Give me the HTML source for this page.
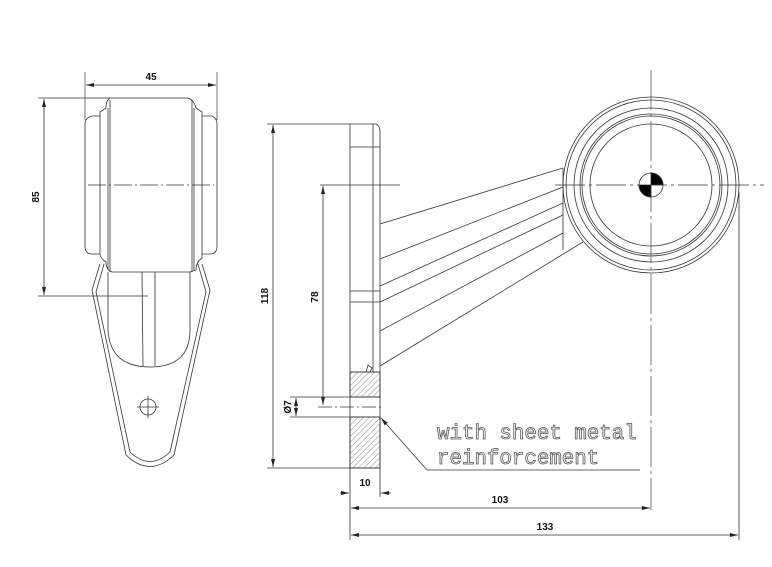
<!DOCTYPE html>
<html><head><style>body{margin:0;background:#fff}svg{display:block}</style></head><body>
<svg width="772" height="567" viewBox="0 0 772 567" xmlns="http://www.w3.org/2000/svg" fill="none" stroke="#333" stroke-width="0.8">
<defs>
<pattern id="h" width="4" height="4" patternUnits="userSpaceOnUse" patternTransform="rotate(45)"><line x1="0" y1="0" x2="0" y2="4" stroke="#555" stroke-width="0.7"/></pattern>
<marker id="a" markerWidth="8" markerHeight="6" refX="8" refY="3" orient="auto-start-reverse" markerUnits="userSpaceOnUse"><path d="M0,1 L8,3 L0,5z" fill="#222" stroke="none"/></marker>
</defs>
<!-- FRONT VIEW -->
<line x1="85" y1="72" x2="85" y2="120" stroke="#555"/>
<line x1="217" y1="72" x2="217" y2="120" stroke="#555"/>
<line x1="86" y1="85" x2="216" y2="85" marker-start="url(#a)" marker-end="url(#a)"/>
<line x1="38" y1="98" x2="110" y2="98"/>
<line x1="38" y1="296" x2="148" y2="296"/>
<line x1="44" y1="99" x2="44" y2="295" marker-start="url(#a)" marker-end="url(#a)"/>
<path d="M110,98 L188,98 Q194,100 196,108 L202,112 L202,116 L212,116 Q217,118 217,124 L217,246 Q217,254 210,254 L202,254 L202,258 Q196,262 196,270 L190,272 L112,272 Q106,270 106,262 Q100,258 100,254 L92,254 Q85,254 85,246 L85,124 Q85,118 92,116 L100,116 L100,112 L106,108 Q106,100 110,98z"/>
<line x1="108" y1="108" x2="108" y2="270"/><line x1="110" y1="100" x2="110" y2="272"/>
<line x1="194" y1="108" x2="194" y2="270"/><line x1="192" y1="100" x2="192" y2="272"/>
<line x1="100" y1="116" x2="100" y2="254"/><line x1="202" y1="116" x2="202" y2="254"/>
<line x1="88" y1="185" x2="214" y2="185" stroke-dasharray="18,3,2,3"/>
<path d="M108,272 L108,330 Q110,367 150,367 Q190,367 190,330 L190,272"/>
<line x1="142" y1="272" x2="143" y2="366"/><line x1="155" y1="272" x2="155" y2="366"/>
<path d="M100,264 L92,290 L126,455 Q150,478 174,455 L210,290 L202,264"/>
<path d="M104,264 L96,292 L130,452 Q150,471 170,452 L206,292 L198,264"/>
<circle cx="148" cy="407" r="8"/>
<line x1="137" y1="407" x2="159" y2="407"/><line x1="148" y1="396" x2="148" y2="418"/>
<!-- SIDE VIEW -->
<path d="M350,124 L376,124 Q380,126 380,132 L380,468 L350,468z"/>
<line x1="373" y1="124" x2="373" y2="372"/>
<line x1="350" y1="147" x2="380" y2="147"/>
<line x1="350" y1="291" x2="380" y2="291"/>
<line x1="350" y1="302" x2="380" y2="302"/>
<rect x="350" y="372" width="30" height="25" fill="url(#h)"/>
<rect x="350" y="417" width="30" height="51" fill="url(#h)"/>
<line x1="350" y1="372" x2="380" y2="372"/><line x1="350" y1="397" x2="380" y2="397"/><line x1="350" y1="417" x2="380" y2="417"/>
<path d="M366,372 L368,365 L372,368 L370,372"/>
<line x1="318" y1="407" x2="384" y2="407" stroke-dasharray="14,3,2,3"/>
<!-- arms -->
<line x1="380" y1="224" x2="563" y2="168"/>
<line x1="380" y1="259" x2="563" y2="187"/>
<line x1="380" y1="286" x2="563" y2="203"/>
<line x1="380" y1="302" x2="563" y2="215"/>
<line x1="380" y1="331" x2="563" y2="233"/>
<line x1="380" y1="366" x2="583" y2="242"/>
<line x1="563" y1="168" x2="563" y2="250"/>
<!-- circle -->
<circle cx="651" cy="185" r="88" fill="#fff"/>
<circle cx="651" cy="185" r="85"/>
<circle cx="651" cy="185" r="77"/>
<circle cx="651" cy="185" r="71"/>
<circle cx="651" cy="185" r="69"/>
<circle cx="651" cy="185" r="61"/>
<line x1="651" y1="70" x2="651" y2="510" stroke="#555" stroke-dasharray="40,4,3,4"/>
<line x1="320" y1="185" x2="400" y2="185"/>
<line x1="555" y1="185" x2="764" y2="185" stroke-dasharray="30,4,3,4"/>
<circle cx="651" cy="185" r="12" fill="#fff"/>
<path d="M651,185 L651,173 A12,12 0 0 1 663,185z" fill="#000"/>
<path d="M651,185 L639,185 A12,12 0 0 0 651,197z" fill="#000"/>
<line x1="739" y1="192" x2="739" y2="540"/>
<!-- dims side -->
<line x1="267" y1="124" x2="350" y2="124"/>
<line x1="267" y1="468" x2="350" y2="468"/>
<line x1="273" y1="125" x2="273" y2="467" marker-start="url(#a)" marker-end="url(#a)"/>
<line x1="323" y1="186" x2="323" y2="405" marker-start="url(#a)" marker-end="url(#a)"/>
<line x1="290" y1="397" x2="350" y2="397"/><line x1="290" y1="417" x2="350" y2="417"/>
<line x1="296" y1="398" x2="296" y2="416" marker-start="url(#a)" marker-end="url(#a)"/>
<line x1="350" y1="468" x2="350" y2="540"/><line x1="380" y1="468" x2="380" y2="497"/>
<line x1="340" y1="493" x2="349" y2="493" marker-end="url(#a)"/>
<line x1="391" y1="493" x2="381" y2="493" marker-end="url(#a)"/>
<line x1="351" y1="508" x2="650" y2="508" marker-start="url(#a)" marker-end="url(#a)"/>
<line x1="351" y1="535" x2="738" y2="535" marker-start="url(#a)" marker-end="url(#a)"/>
<path d="M427,470 L381,418" marker-end="url(#a)"/>
<line x1="427" y1="470" x2="640" y2="470"/>
<g fill="#111" stroke="none" font-family="Liberation Sans, sans-serif" font-size="10" font-weight="bold">
<text x="151" y="80" text-anchor="middle">45</text>
<text x="0" y="0" text-anchor="middle" transform="translate(39,197) rotate(-90)">85</text>
<text x="0" y="0" text-anchor="middle" transform="translate(268,296) rotate(-90)">118</text>
<text x="0" y="0" text-anchor="middle" transform="translate(318,297) rotate(-90)">78</text>
<text x="0" y="0" text-anchor="middle" transform="translate(291,407) rotate(-90)">Ø7</text>
<text x="365" y="486" text-anchor="middle">10</text>
<text x="500" y="503" text-anchor="middle">103</text>
<text x="545" y="530" text-anchor="middle">133</text>
</g>
<g fill="#fff" stroke="#555" stroke-width="0.8" font-family="Liberation Mono, monospace" font-size="20.8">
<text x="437" y="439">with sheet metal</text>
<text x="437" y="464">reinforcement</text>
</g>
</svg>
</body></html>
